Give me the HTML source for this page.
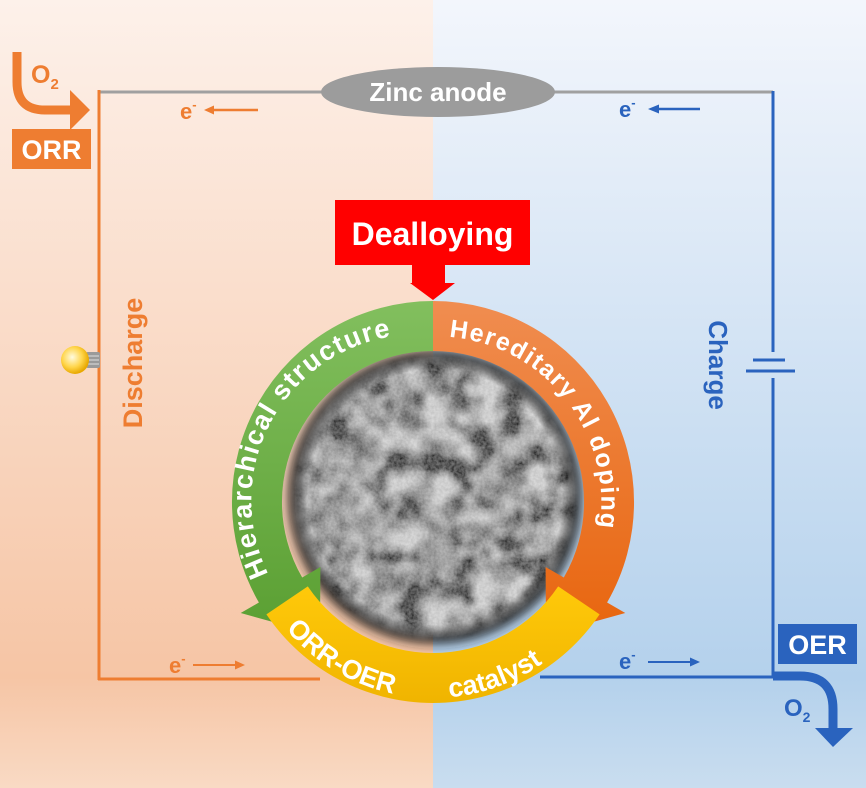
<!DOCTYPE html>
<html><head><meta charset="utf-8"><style>
html,body{margin:0;padding:0;width:866px;height:788px;overflow:hidden;background:#fff}
svg{display:block}
text{font-family:"Liberation Sans",Arial,sans-serif;font-weight:bold}
</style></head><body>
<svg width="866" height="788" viewBox="0 0 866 788" xmlns="http://www.w3.org/2000/svg">
<defs>
<linearGradient id="bgL" x1="0" y1="0" x2="0" y2="1">
<stop offset="0" stop-color="#fdf1ea"/><stop offset="0.86" stop-color="#f6c5a5"/><stop offset="1" stop-color="#f9dac4"/></linearGradient>
<linearGradient id="bgR" x1="0" y1="0" x2="0" y2="1">
<stop offset="0" stop-color="#f3f6fc"/><stop offset="0.86" stop-color="#b4d1ec"/><stop offset="1" stop-color="#c9ddef"/></linearGradient>
<linearGradient id="gG" x1="0" y1="0" x2="0" y2="1"><stop offset="0" stop-color="#82bf5e"/><stop offset="1" stop-color="#5a9f32"/></linearGradient>
<linearGradient id="gO" x1="0" y1="0" x2="0" y2="1"><stop offset="0" stop-color="#f08d50"/><stop offset="1" stop-color="#e8650e"/></linearGradient>
<linearGradient id="gY" x1="0" y1="0" x2="0" y2="1"><stop offset="0" stop-color="#ffc90a"/><stop offset="1" stop-color="#f0b400"/></linearGradient>
<radialGradient id="bulb" cx="0.4" cy="0.4" r="0.6"><stop offset="0" stop-color="#fffbe0"/><stop offset="0.6" stop-color="#ffd54a"/><stop offset="1" stop-color="#e8a800"/></radialGradient>
<filter id="sem" x="0" y="0" width="1" height="1">
<feTurbulence type="fractalNoise" baseFrequency="0.04" numOctaves="2" seed="7" result="n"/>
<feColorMatrix in="n" type="matrix" values="0.33 0.33 0.33 0 0  0.33 0.33 0.33 0 0  0.33 0.33 0.33 0 0  0 0 0 0 1" result="g"/>
<feComponentTransfer in="g" result="big"><feFuncR type="linear" slope="4" intercept="-1.5"/><feFuncG type="linear" slope="4" intercept="-1.5"/><feFuncB type="linear" slope="4" intercept="-1.5"/></feComponentTransfer>
<feTurbulence type="fractalNoise" baseFrequency="0.35" numOctaves="2" seed="3" result="f"/>
<feColorMatrix in="f" type="matrix" values="0.6 0 0 0 -0.1  0.6 0 0 0 -0.1  0.6 0 0 0 -0.1  0 0 0 0 1" result="fine"/>
<feComposite in="big" in2="fine" operator="arithmetic" k1="0" k2="0.55" k3="0.4" k4="0.02"/>
</filter>
<filter id="blur" x="-0.2" y="-0.2" width="1.4" height="1.4"><feGaussianBlur stdDeviation="6"/></filter>
<radialGradient id="semMaskG"><stop offset="0.88" stop-color="#fff"/><stop offset="1" stop-color="#000"/></radialGradient>
<mask id="semMask"><circle cx="435" cy="497" r="145" fill="url(#semMaskG)"/></mask>
<path id="tG" d="M268.5,574 A166 166 0 0 1 440,336"/>
<path id="tO" d="M445,336.6 A166 166 0 0 1 599,530"/>
<path id="tY" d="M262,592 A191 191 0 0 0 604,592"/>
</defs>
<rect x="0" y="0" width="433" height="788" fill="url(#bgL)"/>
<rect x="433" y="0" width="433" height="788" fill="url(#bgR)"/>

<line x1="99" y1="92" x2="773" y2="92" stroke="#a0a0a0" stroke-width="3"/>
<line x1="99" y1="90" x2="99" y2="680" stroke="#ee7d31" stroke-width="3"/>
<line x1="98" y1="679" x2="320" y2="679" stroke="#ee7d31" stroke-width="3"/>
<line x1="773" y1="91" x2="773" y2="352" stroke="#2a63be" stroke-width="3"/>
<line x1="753" y1="360" x2="785" y2="360" stroke="#2a63be" stroke-width="3"/>
<line x1="746" y1="371" x2="795" y2="371" stroke="#2a63be" stroke-width="3"/>
<line x1="773" y1="378" x2="773" y2="678" stroke="#2a63be" stroke-width="3"/>
<line x1="540" y1="677" x2="774" y2="677" stroke="#2a63be" stroke-width="3"/>

<ellipse cx="438" cy="92" rx="117" ry="25" fill="#9c9c9c"/>
<text x="438" y="101" font-size="26" fill="#fff" text-anchor="middle">Zinc anode</text>

<path d="M17,52 L17,82 Q17,110 45,110 L72,110" fill="none" stroke="#ee7d31" stroke-width="9"/>
<polygon points="70,90 90,110 70,130" fill="#ee7d31"/>
<text x="31" y="83" font-size="25" fill="#ee7d31">O<tspan font-size="15" dy="6">2</tspan></text>
<rect x="12" y="129" width="79" height="40" fill="#ee7d31"/>
<text x="51.5" y="159" font-size="27" fill="#fff" text-anchor="middle">ORR</text>

<path d="M773,676 L800,676 Q833,676 833,709 L833,730" fill="none" stroke="#2a63be" stroke-width="9"/>
<polygon points="815,728 853,728 833,747" fill="#2a63be"/>
<rect x="778" y="624" width="79" height="40" fill="#2a63be"/>
<text x="817.5" y="654" font-size="27" fill="#fff" text-anchor="middle">OER</text>
<text x="784" y="716" font-size="24" fill="#2a63be">O<tspan font-size="14" dy="6">2</tspan></text>

<g font-size="22">
<text x="180" y="119" fill="#ee7d31">e<tspan font-size="13" dy="-10">-</tspan></text>
<line x1="212" y1="110" x2="258" y2="110" stroke="#ee7d31" stroke-width="2.5"/><polygon points="204,110 214,105.5 214,114.5" fill="#ee7d31"/>
<text x="619" y="117" fill="#2a63be">e<tspan font-size="13" dy="-10">-</tspan></text>
<line x1="657" y1="109" x2="700" y2="109" stroke="#2a63be" stroke-width="2.5"/><polygon points="648,109 659,104.5 659,113.5" fill="#2a63be"/>
<text x="169" y="673" fill="#ee7d31">e<tspan font-size="13" dy="-10">-</tspan></text>
<line x1="193" y1="665" x2="237" y2="665" stroke="#ee7d31" stroke-width="2"/><polygon points="245,665 235,660.5 235,669.5" fill="#ee7d31"/>
<text x="619" y="669" fill="#2a63be">e<tspan font-size="13" dy="-10">-</tspan></text>
<line x1="648" y1="662" x2="692" y2="662" stroke="#2a63be" stroke-width="2"/><polygon points="700,662 690,657.5 690,666.5" fill="#2a63be"/>
</g>

<text transform="translate(142,363) rotate(-90)" font-size="27" fill="#ee7d31" text-anchor="middle">Discharge</text>
<text transform="translate(709,365) rotate(90)" font-size="26" fill="#2a63be" text-anchor="middle">Charge</text>

<rect x="86" y="352" width="14" height="16" rx="2" fill="#9a9a9a"/>
<line x1="88" y1="356" x2="99" y2="356" stroke="#ddd"/><line x1="88" y1="360" x2="99" y2="360" stroke="#ddd"/><line x1="88" y1="364" x2="99" y2="364" stroke="#ddd"/>
<circle cx="75" cy="360" r="14" fill="url(#bulb)"/>

<rect x="335" y="200" width="195" height="65" fill="#ff0000"/>
<rect x="412" y="264" width="33" height="20" fill="#ff0000"/>
<polygon points="410,283 455,283 433,300" fill="#ff0000"/>
<text x="432.5" y="245" font-size="32" fill="#fff" text-anchor="middle">Dealloying</text>

<circle cx="435" cy="497" r="146" fill="#1a1a1a" filter="url(#blur)"/>
<g mask="url(#semMask)">
<rect x="285" y="347" width="300" height="300" filter="url(#sem)"/>
</g>

<path d="M433,301 A201 201 0 0 0 258.9,602.5 L240.7,613 L320,635 L320.4,567 L302.2,577.5 A151 151 0 0 1 433,351 Z" fill="url(#gG)"/>
<path d="M433,301 A201 201 0 0 1 607.1,602.5 L625.3,613 L546,635 L545.6,567 L563.8,577.5 A151 151 0 0 0 433,351 Z" fill="url(#gO)"/>
<path d="M266.4,614.4 A201 201 0 0 0 599.6,614.4 L558.2,586.4 A151 151 0 0 1 307.8,586.4 Z" fill="url(#gY)"/>

<text font-size="27" fill="#fff"><textPath href="#tG" startOffset="0" textLength="310" lengthAdjust="spacing">Hierarchical  structure</textPath></text>
<text font-size="25" fill="#fff"><textPath href="#tO" startOffset="4" textLength="272" lengthAdjust="spacing">Hereditary Al doping</textPath></text>
<text font-size="27" fill="#fff"><textPath href="#tY" startOffset="44">ORR-OER</textPath></text>
<text font-size="27" fill="#fff"><textPath href="#tY" startOffset="228">catalyst</textPath></text>
</svg>
</body></html>
